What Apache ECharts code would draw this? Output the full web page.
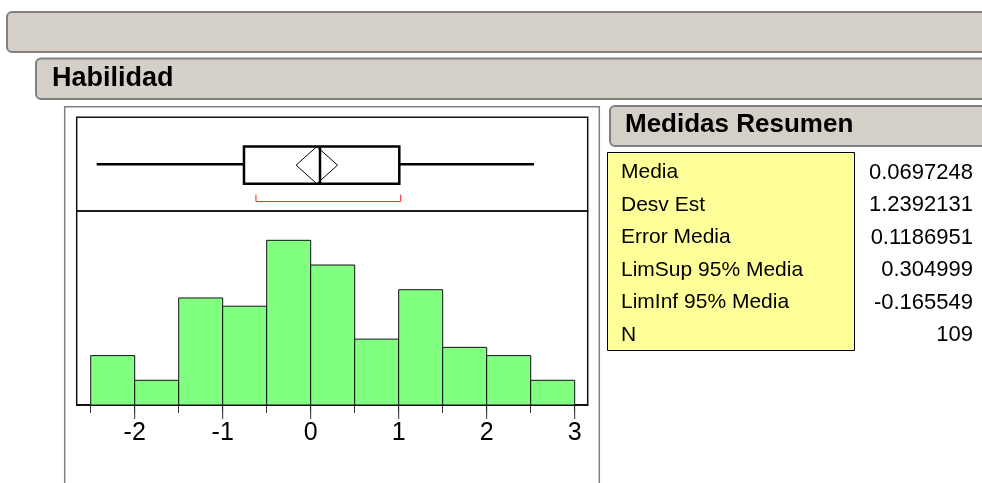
<!DOCTYPE html>
<html>
<head>
<meta charset="utf-8">
<script src="https://cdn.jsdelivr.net/npm/echarts@6/dist/echarts.min.js"></script>
<style>
html,body{margin:0;padding:0;background:#fff}
#main{width:982px;height:483px}
</style>
</head>
<body>
<div id="main"></div>
<script>
// histograma de Habilidad
var binStarts = [-2.5, -2, -1.5, -1, -0.5, 0, 0.5, 1, 1.5, 2, 2.5];
var binCounts = [6, 3, 13, 12, 20, 17, 8, 14, 7, 6, 3];
var binWidth = 0.5;
var xLabels = [-2, -1, 0, 1, 2, 3];
var xTicks = [-2.5, -2, -1.5, -1, -0.5, 0, 0.5, 1, 1.5, 2, 2.5, 3];
// cuantiles: min, q1, mediana, q3, max
var boxValues = [-2.432, -0.758, 0.106, 1.007, 2.538];
// LimInf, media, LimSup
var meanDiamond = [-0.165549, 0.0697248, 0.304999];
var shortestHalf = [-0.622, 1.023];
var statNames = ['Media', 'Desv Est', 'Error Media', 'LimSup 95% Media', 'LimInf 95% Media', 'N'];
var statValues = ['0.0697248', '1.2392131', '0.1186951', '0.304999', '-0.165549', '109'];

var FONT = '"Liberation Sans", Arial, sans-serif';
var X_MIN = -2.659, X_MAX = 3.148;
var chart = echarts.init(document.getElementById('main'));

function renderBox(params, api) {
  var x = function (v) { return api.coord([v, 0.5])[0]; };
  var y = api.coord([0, 0.5])[1];
  var h = 18.6;
  var dark = {stroke: '#000', lineWidth: 2.5, fill: null};
  var mn = api.value(0), q1 = api.value(1), md = api.value(2), q3 = api.value(3), mx = api.value(4);
  var lo = api.value(5), mean = api.value(6), hi = api.value(7);
  var sLo = api.value(8), sHi = api.value(9);
  var by = y + 1;
  var ry = y + 37.4;
  return {
    type: 'group',
    children: [
      {type: 'line', shape: {x1: x(mn), y1: y, x2: x(q1), y2: y}, style: dark},
      {type: 'line', shape: {x1: x(q3), y1: y, x2: x(mx), y2: y}, style: dark},
      {type: 'rect', shape: {x: x(q1), y: by - h, width: x(q3) - x(q1), height: 2 * h}, style: dark},
      {type: 'polygon', shape: {points: [[x(lo), by], [x(mean), by - h], [x(hi), by], [x(mean), by + h]]},
        style: {stroke: '#000', lineWidth: 1, fill: null}},
      {type: 'line', shape: {x1: x(md), y1: by - h, x2: x(md), y2: by + h}, style: dark},
      {type: 'polyline', shape: {points: [[x(sLo), ry - 7], [x(sLo), ry], [x(sHi), ry], [x(sHi), ry - 7]]},
        style: {stroke: '#ff2020', lineWidth: 1, fill: null}}
    ]
  };
}

function renderBar(params, api) {
  var p0 = api.coord([api.value(0), api.value(2)]);
  var p1 = api.coord([api.value(1), 0]);
  return {
    type: 'rect',
    shape: {x: p0[0], y: p0[1], width: p1[0] - p0[0], height: p1[1] - p0[1]},
    style: {fill: '#80ff80', stroke: '#111', lineWidth: 1}
  };
}

// marcas largas en los enteros
function renderMajorTick(params, api) {
  var p = api.coord([api.value(0), api.value(1)]);
  return {
    type: 'line',
    shape: {x1: p[0], y1: p[1], x2: p[0], y2: p[1] + 14},
    style: {stroke: '#333', lineWidth: 1}
  };
}

var graphics = [
  {type: 'rect', shape: {x: 7, y: 12, width: 1000, height: 40, r: 5},
    style: {fill: '#d4d0c8', stroke: '#808080', lineWidth: 2}},
  {type: 'rect', shape: {x: 36, y: 58.5, width: 1000, height: 40.5, r: 5},
    style: {fill: '#d4d0c8', stroke: '#808080', lineWidth: 2}},
  {type: 'text', style: {text: 'Habilidad', x: 52, y: 79, font: 'bold 27px ' + FONT,
    fill: '#000', textVerticalAlign: 'middle'}},
  {type: 'polyline', shape: {points: [[64.7, 495], [64.7, 106.7], [599.3, 106.7], [599.3, 495]]},
    style: {stroke: '#808080', lineWidth: 1.5, fill: null}},
  {type: 'rect', shape: {x: 610, y: 106, width: 400, height: 40, r: 5},
    style: {fill: '#d4d0c8', stroke: '#808080', lineWidth: 2}},
  {type: 'text', style: {text: 'Medidas Resumen', x: 625, y: 125, font: 'bold 26px ' + FONT,
    fill: '#000', textVerticalAlign: 'middle'}},
  {type: 'rect', shape: {x: 607.5, y: 152.5, width: 247, height: 198},
    style: {fill: '#ffff99', stroke: '#000', lineWidth: 1}}
];
statNames.forEach(function (name, i) {
  var yy = 172.5 + i * 32.55;
  graphics.push({type: 'text', style: {text: name, x: 621, y: yy, font: '21px ' + FONT,
    fill: '#000', textVerticalAlign: 'middle'}});
  graphics.push({type: 'text', style: {text: statValues[i], x: 973, y: yy, font: '22px ' + FONT,
    fill: '#000', textAlign: 'right', textVerticalAlign: 'middle'}});
});

chart.setOption({
  animation: false,
  backgroundColor: '#fff',
  grid: [
    {left: 76.7, width: 511, top: 117.3, height: 93.7, show: true, borderColor: '#111', borderWidth: 1.5},
    {left: 76.7, width: 511, top: 211, height: 194, show: true, borderColor: '#111', borderWidth: 1.5}
  ],
  xAxis: [
    {gridIndex: 0, type: 'value', min: X_MIN, max: X_MAX, show: false},
    {
      gridIndex: 1, type: 'value', min: X_MIN, max: X_MAX, position: 'bottom',
      splitLine: {show: false},
      axisLine: {show: true, onZero: false, lineStyle: {color: '#000', width: 1.5}},
      axisTick: {show: true, length: 8, customValues: xTicks, lineStyle: {color: '#333', width: 1}},
      axisLabel: {customValues: xLabels, fontSize: 25, fontFamily: FONT, color: '#000', margin: 16}
    }
  ],
  yAxis: [
    {gridIndex: 0, type: 'value', min: 0, max: 1, show: false},
    {gridIndex: 1, type: 'value', min: 0, max: 23.56, show: false}
  ],
  series: [
    {
      type: 'custom', xAxisIndex: 0, yAxisIndex: 0, renderItem: renderBox,
      data: [boxValues.concat(meanDiamond, shortestHalf)],
      encode: {x: [0, 4], y: -1}, silent: true
    },
    {
      type: 'custom', xAxisIndex: 1, yAxisIndex: 1, renderItem: renderBar,
      data: binStarts.map(function (s, i) { return [s, s + binWidth, binCounts[i]]; }),
      encode: {x: [0, 1], y: 2}, silent: true
    },
    {
      type: 'custom', xAxisIndex: 1, yAxisIndex: 1, renderItem: renderMajorTick,
      clip: false, z: 10,
      data: xLabels.map(function (v) { return [v, 0]; }),
      encode: {x: 0, y: 1}, silent: true
    }
  ],
  graphic: graphics
});
</script>
</body>
</html>
